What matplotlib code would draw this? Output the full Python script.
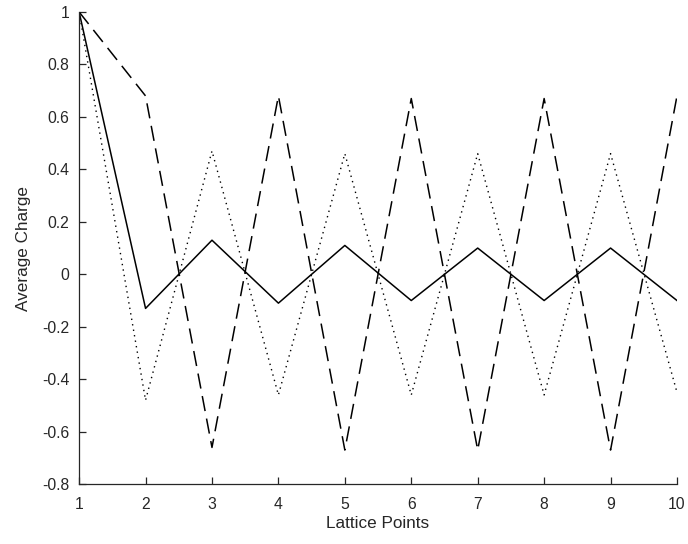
import numpy as np
import matplotlib.pyplot as plt

# -----------------------------
# DATA
# -----------------------------
lattice_points = [1, 2, 3, 4, 5, 6, 7, 8, 9, 10]

charge_solid = [1.0, -0.13, 0.13, -0.11, 0.11, -0.10, 0.10, -0.10, 0.10, -0.10]
charge_dashed = [1.0, 0.68, -0.66, 0.68, -0.67, 0.67, -0.67, 0.67, -0.67, 0.68]
charge_dotted = [1.0, -0.48, 0.47, -0.46, 0.46, -0.46, 0.46, -0.46, 0.46, -0.45]

x_ticks = list(range(1, 11))
y_ticks = [-0.8, -0.6, -0.4, -0.2, 0, 0.2, 0.4, 0.6, 0.8, 1]
y_tick_labels = ["-0.8", "-0.6", "-0.4", "-0.2", "0", "0.2", "0.4", "0.6", "0.8", "1"]


# -----------------------------
# PLOTTING
# -----------------------------
def plot_charges():
    plt.rcParams['font.family'] = ['Liberation Sans', 'DejaVu Sans']

    fig = plt.figure(figsize=(6.88, 5.44), dpi=100)
    ax = fig.add_axes([0.115, 0.110, 0.869, 0.868])

    ax.plot(lattice_points, charge_solid, color='black', linewidth=1.1, linestyle='-')
    ax.plot(lattice_points, charge_dashed, color='black', linewidth=1.1,
            linestyle=(0, (10, 5)))
    ax.plot(lattice_points, charge_dotted, color='black', linewidth=1.0,
            linestyle=(0, (1, 3)))

    ax.set_xlim(1, 10)
    ax.set_ylim(-0.8, 1)
    ax.set_xticks(x_ticks)
    ax.set_yticks(y_ticks)
    ax.set_yticklabels(y_tick_labels)

    ax.spines['top'].set_visible(False)
    ax.spines['right'].set_visible(False)
    for side in ('left', 'bottom'):
        ax.spines[side].set_linewidth(0.9)
        ax.spines[side].set_color('#262626')

    ax.tick_params(direction='in', length=5, width=0.9, labelsize=11.3,
                   colors='#262626')
    ax.tick_params(axis='x', pad=9)
    ax.tick_params(axis='y', pad=7)

    ax.set_xlabel("Lattice Points", fontsize=12.3, color='#262626', labelpad=3)
    ax.set_ylabel("Average Charge", fontsize=12.3, color='#262626', labelpad=8)

    fig.savefig("out.png", dpi=100)


def main():
    plot_charges()


if __name__ == "__main__":
    main()
